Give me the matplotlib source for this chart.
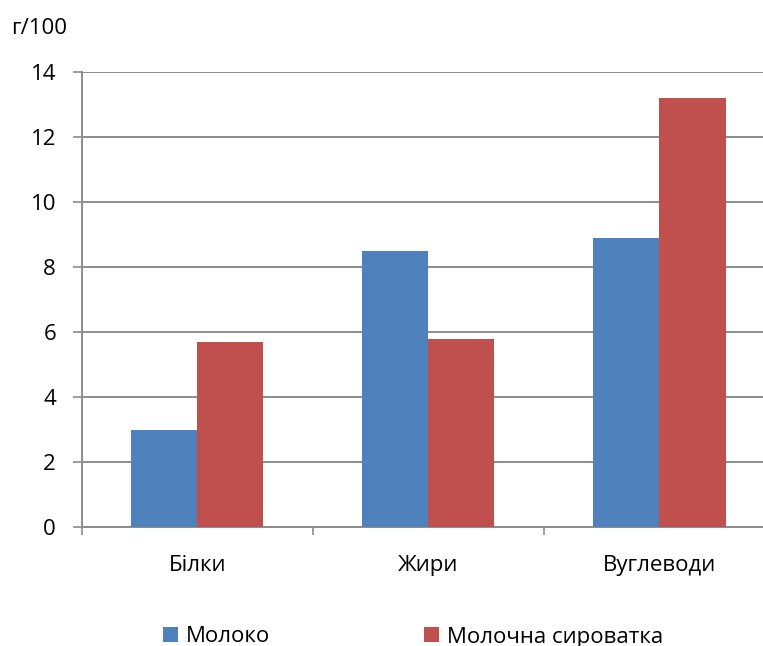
import numpy as np
import matplotlib.pyplot as plt
from matplotlib.patches import Patch

# Composition data, g per 100 g
categories = ['Білки', 'Жири', 'Вуглеводи']
milk = [3.0, 8.5, 8.9]
whey = [5.7, 5.8, 13.2]
series_names = ['Молоко', 'Молочна сироватка']
y_ticks = [0, 2, 4, 6, 8, 10, 12, 14]

blue = '#4F81BD'
red = '#C0504D'
grid_col = '#8C8C8C'
fs = 16

plt.rcParams['font.family'] = ['Open Sans', 'DejaVu Sans']

fig = plt.figure(figsize=(7.63, 6.46), dpi=100)
ax = fig.add_axes([81.7 / 763, 1 - 527.3 / 646, (775 - 81.7) / 763, (527.3 - 72) / 646])

x = np.arange(len(categories))
w = 0.286
ax.bar(x - w / 2, milk, w, color=blue, zorder=3)
ax.bar(x + w / 2, whey, w, color=red, zorder=3)

ax.set_xlim(-0.5, 2.5)
ax.set_ylim(0, 14)
ax.set_yticks(y_ticks)
ax.set_yticklabels([str(t) for t in y_ticks])
ax.yaxis.grid(True, color=grid_col, linewidth=1.4, zorder=0)
ax.set_axisbelow(True)

ax.set_xticks(x)
ax.set_xticklabels(categories)
ax.set_xticks(np.arange(-0.5, 3.0, 1.0), minor=True)
ax.tick_params(axis='x', which='major', length=0, pad=20, labelsize=fs)
ax.tick_params(axis='x', which='minor', length=6, width=1.2, color=grid_col, direction='out')
ax.tick_params(axis='y', length=6.5, width=1.2, color=grid_col, pad=12, labelsize=fs)

for side in ['top', 'right']:
    ax.spines[side].set_visible(False)
for side in ['left', 'bottom']:
    ax.spines[side].set_color(grid_col)
    ax.spines[side].set_linewidth(1.4)

fig.text(11 / 763, 1 - 28 / 646, 'г/100', fontsize=fs, va='center', ha='left')

handles = [Patch(facecolor=blue), Patch(facecolor=red)]
fig.legend(handles, series_names, loc='center', bbox_to_anchor=(413 / 763, 1 - 637 / 646),
           ncol=2, frameon=False, fontsize=fs, handlelength=0.68, handleheight=0.68,
           handletextpad=0.36, columnspacing=6.9, borderpad=0, borderaxespad=0)

fig.savefig('out.png', dpi=100)
